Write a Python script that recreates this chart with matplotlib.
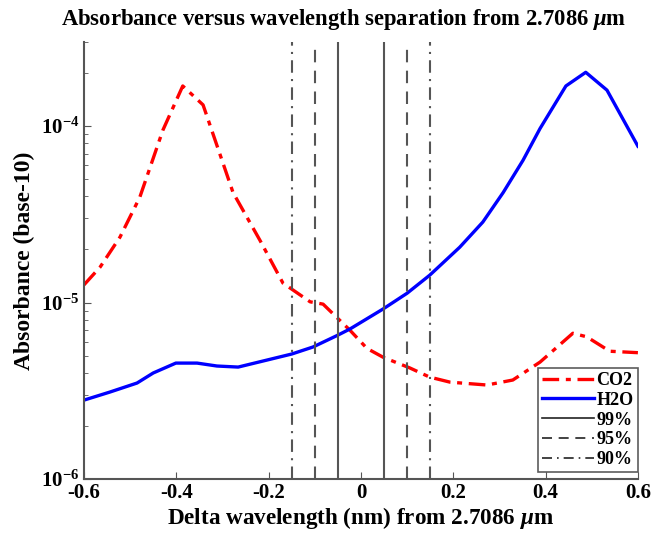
import numpy as np
import matplotlib
matplotlib.use('Agg')
import matplotlib.pyplot as plt
from matplotlib.ticker import LogLocator, FixedLocator, NullFormatter

plt.rcParams['font.family'] = 'Liberation Serif'
plt.rcParams['font.weight'] = 'bold'
plt.rcParams['mathtext.fontset'] = 'custom'
plt.rcParams['mathtext.rm'] = 'Liberation Serif:bold'
plt.rcParams['mathtext.bf'] = 'Liberation Serif:bold'
plt.rcParams['mathtext.it'] = 'Liberation Serif:italic'
plt.rcParams['mathtext.default'] = 'bf'

# absorbance of CO2 and H2O against wavelength offset (nm)
co2_dl = [-0.6, -0.565, -0.522, -0.479, -0.429, -0.386, -0.342, -0.277, -0.219, -0.169,
          -0.110, -0.082, -0.024, 0.013, 0.048, 0.106, 0.149, 0.193, 0.273, 0.329,
          0.388, 0.459, 0.489, 0.539, 0.6]
co2_abs = [1.26e-5, 1.59e-5, 2.35e-5, 3.96e-5, 9.5e-5, 1.69e-4, 1.32e-4, 4.2e-5, 2.26e-5, 1.29e-5,
           1.01e-5, 9.8e-6, 6.98e-6, 5.5e-6, 4.9e-6, 4.26e-6, 3.78e-6, 3.54e-6, 3.41e-6, 3.64e-6,
           4.6e-6, 6.7e-6, 6.4e-6, 5.3e-6, 5.2e-6]

h2o_dl = [-0.6, -0.544, -0.485, -0.450, -0.401, -0.355, -0.312, -0.266, -0.204, -0.150,
          -0.104, -0.052, -0.024, 0.048, 0.1, 0.149, 0.214, 0.264, 0.308, 0.351,
          0.388, 0.444, 0.487, 0.533, 0.6]
h2o_abs = [2.8e-6, 3.11e-6, 3.5e-6, 3.99e-6, 4.54e-6, 4.54e-6, 4.37e-6, 4.31e-6, 4.72e-6, 5.11e-6,
           5.6e-6, 6.5e-6, 7.08e-6, 9.2e-6, 1.13e-5, 1.43e-5, 2.06e-5, 2.86e-5, 4.2e-5, 6.4e-5,
           9.7e-5, 1.69e-4, 2.02e-4, 1.6e-4, 7.7e-5]

# filter passband half-widths (nm)
bands = [0.05, 0.10, 0.15]
band_labels = ['99%', '95%', '90%']
band_styles = ['-', (0, (6, 4)), (0, (6, 3, 1, 3))]

fig = plt.figure(figsize=(6.54, 5.33), dpi=100)
ax = fig.add_axes([0.1284, 0.1013, 0.847, 0.8199])

ax.plot(co2_dl, co2_abs, color='red', lw=2.4, linestyle=(0, (5, 2, 1.5, 2)), label='CO2')
ax.plot(h2o_dl, h2o_abs, color='blue', lw=2.4, label='H2O')
for w, lab, ls in zip(bands, band_labels, band_styles):
    ax.axvline(-w, color='#555555', lw=1.5, linestyle=ls, label=lab)
    ax.axvline(w, color='#555555', lw=1.5, linestyle=ls)

ax.set_yscale('log')
ax.set_xlim(-0.6, 0.6)
ax.set_ylim(1e-6, 3e-4)
ax.xaxis.set_major_locator(FixedLocator(np.arange(-0.6, 0.61, 0.2)))
ax.set_xticklabels(['-0.6', '-0.4', '-0.2', '0', '0.2', '0.4', '0.6'])
ax.yaxis.set_major_locator(LogLocator(base=10))
ax.yaxis.set_minor_locator(LogLocator(base=10, subs=np.arange(2, 10)))
ax.yaxis.set_minor_formatter(NullFormatter())

for s in ['top', 'right']:
    ax.spines[s].set_visible(False)
for s in ['left', 'bottom']:
    ax.spines[s].set_color('#555555')
    ax.spines[s].set_linewidth(1.5)
ax.tick_params(which='both', direction='in', colors='#555555', labelcolor='black',
               labelsize=15, top=False, right=False)
ax.tick_params(which='major', length=5)
ax.tick_params(which='minor', length=3)
ax.tick_params(axis='x', pad=3)

ax.set_xlabel(r'Delta wavelength (nm) from 2.7086 $\mathit{\mu}$m', fontsize=16.7, fontweight='bold',
              labelpad=1)
ax.set_ylabel('Absorbance (base-10)', fontsize=17, fontweight='bold', labelpad=4)
ax.set_title(r'Absorbance versus wavelength separation from 2.7086 $\mathit{\mu}$m',
             fontsize=16.3, fontweight='bold', pad=12, x=0.469)

leg = ax.legend(loc='lower right', bbox_to_anchor=(1.0, 0.015), fontsize=13, frameon=True,
                fancybox=False, edgecolor='#333333', handlelength=2.9, borderaxespad=0,
                labelspacing=0.15, handletextpad=0.1, borderpad=0.25)
leg.get_frame().set_linewidth(1.2)
for line in leg.get_lines()[2:]:
    line.set_color('#222222')
    line.set_linewidth(1.2)

fig.savefig('out.png', dpi=100)
